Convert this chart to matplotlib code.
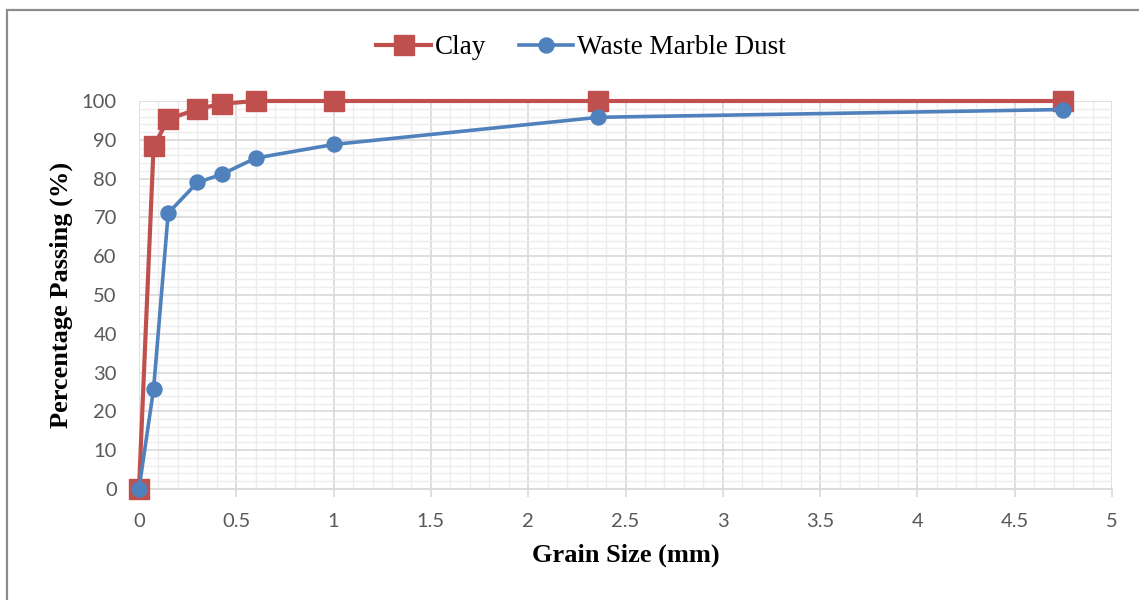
import matplotlib
matplotlib.use("Agg")
import matplotlib.pyplot as plt
from matplotlib.ticker import MultipleLocator, FuncFormatter
from matplotlib.patches import Rectangle

grain_size = [0, 0.075, 0.15, 0.3, 0.425, 0.6, 1.0, 2.36, 4.75]
clay = [0, 88.3, 95.3, 97.9, 99.3, 100, 100, 100, 100]
marble = [0, 25.8, 71.1, 79.0, 81.1, 85.3, 88.8, 95.8, 97.8]
series_names = ["Clay", "Waste Marble Dust"]

fig = plt.figure(figsize=(11.39, 6.0), dpi=100)
ax = fig.add_axes([139/1139, 1-489/600, (1112-139)/1139, (489-101)/600])

red = "#C0504D"
blue = "#4F81BD"
ax.plot(grain_size, clay, color=red, lw=3.0, marker="s", ms=14, label=series_names[0],
        zorder=3, clip_on=False)
ax.plot(grain_size, marble, color=blue, lw=2.6, marker="o", ms=10.8, label=series_names[1],
        zorder=4, clip_on=False)

ax.set_xlim(0, 5)
ax.set_ylim(0, 100)
ax.xaxis.set_major_locator(MultipleLocator(0.5))
ax.xaxis.set_minor_locator(MultipleLocator(0.1))
ax.yaxis.set_major_locator(MultipleLocator(10))
ax.yaxis.set_minor_locator(MultipleLocator(2))
ax.xaxis.set_major_formatter(FuncFormatter(lambda v, p: ("%g" % round(v, 2))))

ax.grid(which="major", color="#D9D9D9", lw=1.2, zorder=0)
ax.grid(which="minor", color="#EDEDED", lw=1.0, zorder=0)
ax.set_axisbelow(True)
for s in ["top", "right", "left"]:
    ax.spines[s].set_visible(False)
ax.spines["bottom"].set_color("#D9D9D9")
ax.spines["bottom"].set_linewidth(1.2)
ax.tick_params(axis="x", which="major", length=6, color="#D9D9D9", width=1.2, pad=11)
ax.tick_params(axis="y", which="major", length=0, pad=16)
ax.tick_params(which="minor", length=0)
ax.tick_params(labelsize=14.5, labelcolor="#595959")
for lab in ax.get_xticklabels() + ax.get_yticklabels():
    lab.set_family(["Lato", "DejaVu Sans"])

ax.set_xlabel("Grain Size (mm)", fontfamily="Liberation Serif", fontweight="bold", fontsize=19, labelpad=10)
ax.set_ylabel("Percentage Passing (%)", fontfamily="Liberation Serif", fontweight="bold", fontsize=19, labelpad=6)

leg = fig.legend(loc="center", bbox_to_anchor=(581/1139, 1-48/600), ncol=2, frameon=False,
                 prop={"family": "Liberation Serif", "size": 19.5}, handlelength=2.0,
                 columnspacing=1.2, handletextpad=0.15)

fig.patches.append(Rectangle((7/1139, -0.1), 1.2, 1-10/600+0.1, transform=fig.transFigure,
                             fill=False, edgecolor="#8C8C8C", lw=1.6))

fig.savefig("out.png", dpi=100)
